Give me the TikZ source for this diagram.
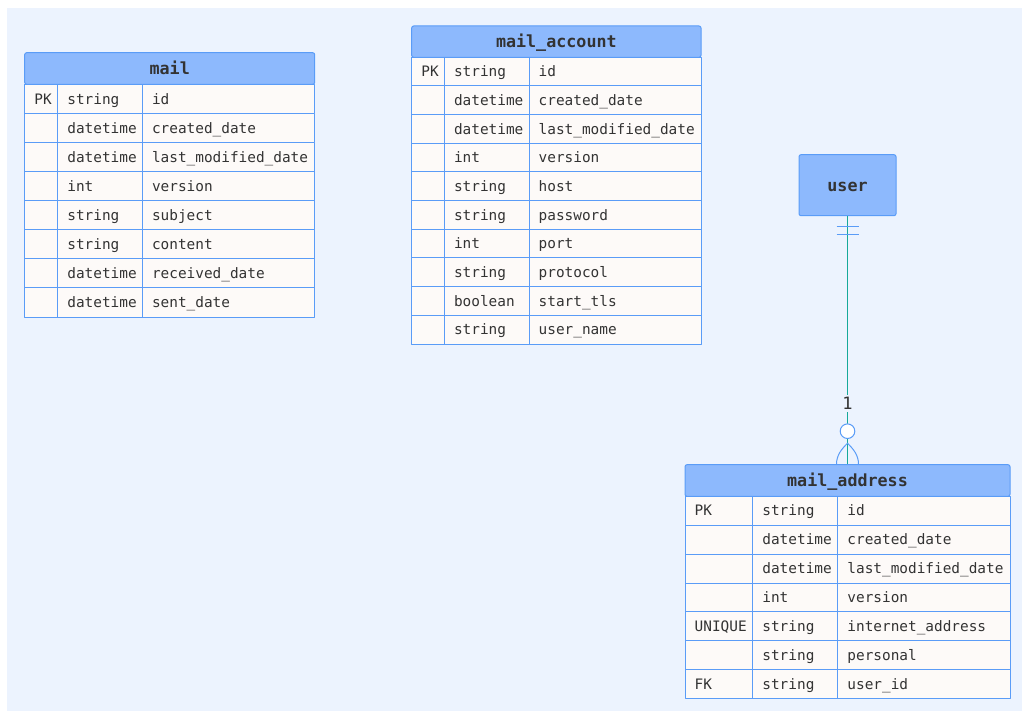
\documentclass[tikz,border=0pt]{standalone}
\usepackage{fontspec}
\setmainfont{DejaVu Sans Mono}
\usetikzlibrary{positioning,calc}
\definecolor{bgblue}{HTML}{ECF3FE}
\definecolor{headblue}{HTML}{8DB9FD}
\definecolor{lineblue}{HTML}{5A9CF7}
\definecolor{cellwhite}{HTML}{FDFAF8}
\definecolor{txtgray}{HTML}{333333}
\definecolor{relteal}{HTML}{16A99A}
% header box of a table
\newcommand \myhead[6]
{
\node[head, rounded corners=2, minimum width={#3-#2}, minimum height={#5-#4}] (#1) at ({(#2+#3)/2},{(#4+#5)/2}) {#6};
}
% rows of a table: prefix, left, divider 1, divider 2, right, top, row height, rows
\newcommand \mytable[8]
{
\foreach \kk/\ty/\fd [count=\i] in {#8}
{
\coordinate (#1-nw\i) at (#2,{#6+(\i-1)*#7});
\coordinate (#1-se\i) at (#5,{#6+\i*#7});
\draw[cell] (#1-nw\i) rectangle (#1-se\i);
\draw[cell] (#3,{#6+(\i-1)*#7}) -- (#3,{#6+\i*#7});
\draw[cell] (#4,{#6+(\i-1)*#7}) -- (#4,{#6+\i*#7});
\node[celltext] (#1-k\i) at ({#2+9.5},{#6+(\i-0.5)*#7+5.2}) {\kk};
\node[celltext] (#1-t\i) at ({#3+9.5},{#6+(\i-0.5)*#7+5.2}) {\ty};
\node[celltext] (#1-f\i) at ({#4+9.5},{#6+(\i-0.5)*#7+5.2}) {\fd};
}
}

\begin{document}
\begin{tikzpicture}[x=1pt, y=-1pt, line join=round,
  head/.style={draw=lineblue, fill=headblue, line width=1pt, text=txtgray, inner sep=0,
    text height=12, text depth=0, font=\fontsize{16.7}{20}\selectfont\bfseries},
  cell/.style={draw=lineblue, fill=cellwhite, line width=1pt},
  celltext/.style={anchor=base west, inner sep=0, text=txtgray, font=\fontsize{14.4}{17}\selectfont},
  rel/.style={draw=relteal, line width=1pt},
  rellabel/.style={fill=bgblue, inner sep=2, text=txtgray, font=\fontsize{17}{20}\selectfont},
  crow/.style={draw=lineblue, line width=1pt}]
\useasboundingbox (0,0) rectangle (1022,711);
\fill[bgblue] (7,8) rectangle (1022,711);

% mail
\myhead{mail}{24.7}{314.7}{52.7}{84.3}{mail}
\mytable{mail}{24.7}{57.7}{142.3}{314.7}{84.3}{29.09}{PK/string/id, /datetime/created\_date, /datetime/last\_modified\_date, /int/version, /string/subject, /string/content, /datetime/received\_date, /datetime/sent\_date}

% mail_account
\myhead{mailacct}{411.7}{701}{26}{57.3}{mail\_account}
\mytable{mailacct}{411.7}{444.3}{529}{701}{57.3}{28.67}{PK/string/id, /datetime/created\_date, /datetime/last\_modified\_date, /int/version, /string/host, /string/password, /int/port, /string/protocol, /boolean/start\_tls, /string/user\_name}

% mail_address
\myhead{mailaddr}{685}{1010}{464.7}{496.3}{mail\_address}
\mytable{mailaddr}{685}{752.7}{837.7}{1010}{496.3}{28.91}{PK/string/id, /datetime/created\_date, /datetime/last\_modified\_date, /int/version, UNIQUE/string/internet\_address, /string/personal, FK/string/user\_id}

% user
\node[head, rounded corners=2, minimum width=97, minimum height=61] (user) at (847.5,185.2) {user};

% relation
\draw[rel] (user) -- node[rellabel, pos=0.756] (one) {1} (mailaddr);
\draw[crow] ($(user.south)+(-11,10.3)$) -- ++(22,0);
\draw[crow] ($(user.south)+(-11,18)$) -- ++(22,0);
\coordinate (cf) at ($(mailaddr.north)+(0,-21)$);
\draw[crow, fill=white] ($(mailaddr.north)+(0,-33)$) circle (7.3);
\draw[crow] ($(mailaddr.north)+(-11,0)$) .. controls +(0,-9) and +(-6,6) .. (cf) .. controls +(6,6) and +(0,-9) .. ($(mailaddr.north)+(11,0)$);
\end{tikzpicture}
\end{document}
